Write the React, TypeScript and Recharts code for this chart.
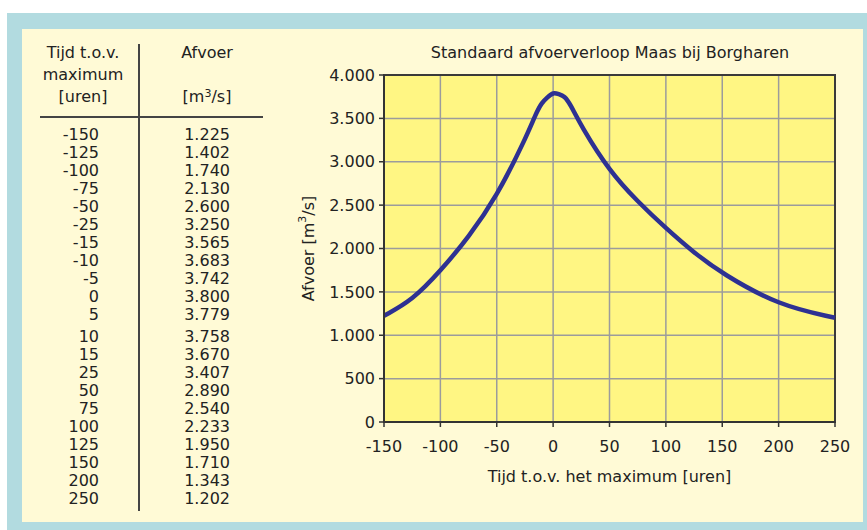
import React from "react";
import {
  LineChart,
  Line,
  XAxis,
  YAxis,
  CartesianGrid,
  ReferenceArea,
  Label,
} from "recharts";

const hours = [-150, -125, -100, -75, -50, -25, -15, -10, -5, 0, 5, 10, 15, 25, 50, 75, 100, 125, 150, 200, 250];
const afvoer = [1225, 1402, 1740, 2130, 2600, 3250, 3565, 3683, 3742, 3800, 3779, 3758, 3670, 3407, 2890, 2540, 2233, 1950, 1710, 1343, 1202];
const xTicks = [-150, -100, -50, 0, 50, 100, 150, 200, 250];
const yTicks = [0, 500, 1000, 1500, 2000, 2500, 3000, 3500, 4000];

const chartTitle = "Standaard afvoerverloop Maas bij Borgharen";
const xAxisTitle = "Tijd t.o.v. het maximum [uren]";
const colHeader1 = ["Tijd t.o.v.", "maximum", "[uren]"];
const colHeader2 = "Afvoer";

const data = hours.map((h, i) => ({ h, q: afvoer[i] }));

const FONT = "'DejaVu Sans', sans-serif";
const TEXT = "#222";

function fmt(n: number): string {
  if (n >= 1000) {
    return `${Math.floor(n / 1000)}.${String(n % 1000).padStart(3, "0")}`;
  }
  return String(n);
}

function rowTop(i: number): number {
  const center = i <= 10 ? 135 + 18 * i : 337 + 18 * (i - 11);
  return center - 9;
}

export default function App() {
  const txt: React.CSSProperties = {
    position: "absolute",
    fontFamily: FONT,
    fontSize: 16,
    lineHeight: "18px",
    color: TEXT,
    whiteSpace: "nowrap",
  };
  return (
    <div
      style={{
        position: "absolute",
        left: 0,
        top: 0,
        width: 867,
        height: 530,
        background: "#ffffff",
        overflow: "hidden",
      }}
    >
      <div style={{ position: "absolute", left: 7, top: 13, width: 860, height: 517, background: "#b2dbe0" }} />
      <div style={{ position: "absolute", left: 22, top: 29, width: 841, height: 493, background: "#fffad6" }} />

      {/* table header */}
      {colHeader1.map((t, i) => (
        <div key={t} style={{ ...txt, left: 23, width: 120, textAlign: "center", top: 44 + 22 * i }}>
          {t}
        </div>
      ))}
      <div style={{ ...txt, left: 147, width: 120, textAlign: "center", top: 44 }}>{colHeader2}</div>
      <div style={{ ...txt, left: 147, width: 120, textAlign: "center", top: 88 }}>
        [m<sup style={{ fontSize: 11, verticalAlign: "5px", lineHeight: 0 }}>3</sup>/s]
      </div>
      <div style={{ position: "absolute", left: 138, top: 44, width: 2, height: 467, background: "#444" }} />
      <div style={{ position: "absolute", left: 40, top: 116, width: 223, height: 2, background: "#444" }} />

      {hours.map((h, i) => (
        <div key={"h" + h} style={{ ...txt, left: 20, width: 79, textAlign: "right", top: rowTop(i) }}>
          {String(h)}
        </div>
      ))}
      {afvoer.map((q, i) => (
        <div key={"q" + i} style={{ ...txt, left: 150, width: 80, textAlign: "right", top: rowTop(i) }}>
          {fmt(q)}
        </div>
      ))}

      {/* title */}
      <div style={{ ...txt, left: 380, width: 460, textAlign: "center", top: 43, lineHeight: "20px" }}>
        {chartTitle}
      </div>

      <div style={{ position: "absolute", left: 280, top: 30 }}>
        <LineChart
          width={587}
          height={480}
          data={data}
          margin={{ top: 45, right: 32, left: 0, bottom: 18 }}
        >
          <CartesianGrid
            stroke="#9c9c9c"
            strokeWidth={1.5}
            fill="#fff683"
            fillOpacity={1}
          />
          <XAxis
            dataKey="h"
            type="number"
            domain={[-150, 250]}
            ticks={xTicks}
            interval={0}
            height={70}
            tickSize={5}
            tickMargin={14}
            axisLine={{ stroke: "#333", strokeWidth: 2 }}
            tickLine={{ stroke: "#333", strokeWidth: 1.5 }}
            tick={{ fill: TEXT, fontSize: 16, fontFamily: FONT }}
          >
            <Label
              value={xAxisTitle}
              position="insideBottom"
              offset={10}
              style={{ fill: TEXT, fontSize: 16, fontFamily: FONT }}
            />
          </XAxis>
          <YAxis
            type="number"
            domain={[0, 4000]}
            ticks={yTicks}
            interval={0}
            width={104}
            tickSize={5}
            tickMargin={4}
            tickFormatter={(v: number) => fmt(v)}
            axisLine={{ stroke: "#333", strokeWidth: 2 }}
            tickLine={{ stroke: "#333", strokeWidth: 1.5 }}
            tick={{ fill: TEXT, fontSize: 16, fontFamily: FONT }}
          >
            <Label
              content={(props: any) => {
                const vb = props.viewBox || { x: 0, y: 0, height: 0 };
                const cx = vb.x + 28;
                const cy = vb.y + vb.height / 2;
                return (
                  <text
                    x={cx}
                    y={cy}
                    transform={`rotate(-90 ${cx} ${cy})`}
                    textAnchor="middle"
                    dominantBaseline="central"
                    fill={TEXT}
                    fontSize={16}
                    fontFamily={FONT}
                  >
                    Afvoer [m
                    <tspan dy={-6} fontSize={11}>3</tspan>
                    <tspan dy={6}>/s]</tspan>
                  </text>
                );
              }}
            />
          </YAxis>
          <ReferenceArea
            x1={-150}
            x2={250}
            y1={0}
            y2={4000}
            fill="none"
            stroke="#3a3a3a"
            strokeWidth={2}
            ifOverflow="visible"
          />
          <Line
            type="basis"
            dataKey="q"
            stroke="#2e3192"
            strokeWidth={4.5}
            dot={false}
            activeDot={false}
            isAnimationActive={false}
          />
        </LineChart>
      </div>
    </div>
  );
}
